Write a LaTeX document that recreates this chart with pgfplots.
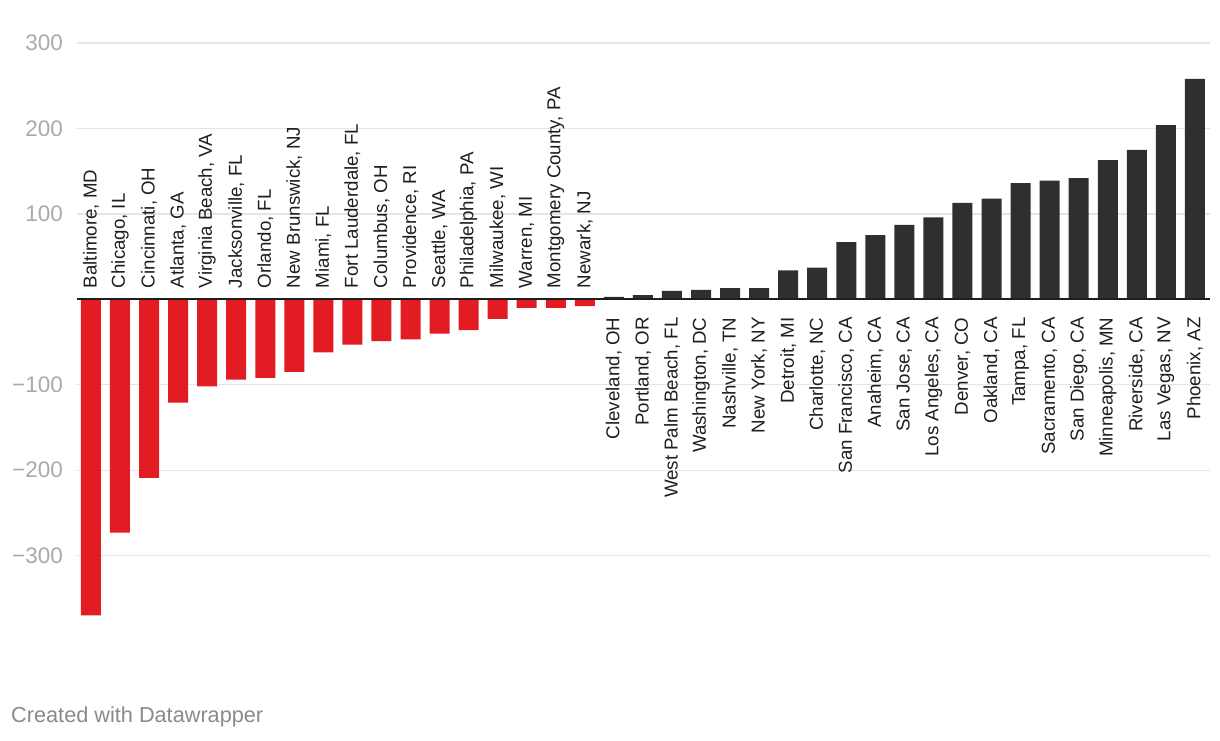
\documentclass[border=0pt]{standalone}
\usepackage{fontspec}
\setmainfont{Liberation Sans}
\usepackage{pgfplots}
\pgfplotsset{compat=1.18}
\definecolor{barred}{HTML}{E31B23}
\definecolor{bardark}{HTML}{2F2F2F}
\definecolor{gridc}{HTML}{E5E5E5}
\definecolor{tickc}{HTML}{AAAAAA}
\definecolor{footc}{HTML}{8A8A8A}
\definecolor{labc}{HTML}{1E1E1E}
\newcommand\labfont{\fontsize{18.7}{18.7}\selectfont}
\tikzset{neglab/.style={rotate=90, anchor=west, inner sep=0pt, font=\labfont, text=labc},
         poslab/.style={rotate=90, anchor=east, inner sep=0pt, font=\labfont, text=labc}}
\newcommand\nl[2]{\node[neglab] at (axis cs:#1,13) {#2};}
\newcommand\pl[2]{\node[poslab] at (axis cs:#1,-21) {#2};}
\begin{document}
\begin{tikzpicture}
\useasboundingbox (0,0) rectangle (1220pt,-740pt);
\begin{axis}[
  at={(77pt,-43pt)}, anchor=north west,
  scale only axis, width=1133pt, height=581pt,
  xmin=-0.48, xmax=38.52, ymin=-380, ymax=300,
  axis line style={draw=none},
  xtick=\empty,
  ytick={-300,-200,-100,0,100,200,300},
  yticklabels={−300,−200,−100,,100,200,300},
  ymajorgrids, major grid style={gridc, line width=1.3pt},
  major tick length=0pt,
  yticklabel style={font=\fontsize{22.5}{22.5}\selectfont, text=tickc, anchor=east, inner sep=0pt, xshift=-14pt},
  clip=false,
]
\addplot[ybar, bar shift=0pt, bar width=20pt, fill=barred, draw=none] coordinates {
(0,-370) (1,-273) (2,-209) (3,-121) (4,-102) (5,-94) (6,-92) (7,-85) (8,-62)
(9,-53) (10,-49) (11,-47) (12,-40) (13,-36) (14,-23) (15,-10) (16,-10) (17,-8)};
\addplot[ybar, bar shift=0pt, bar width=20pt, fill=bardark, draw=none] coordinates {
(18,3) (19,5) (20,10) (21,11) (22,13) (23,13) (24,34) (25,37) (26,67) (27,75)
(28,87) (29,96) (30,113) (31,118) (32,136) (33,139) (34,142) (35,163) (36,175)
(37,204) (38,258)};
\draw[line width=2pt, color=labc] (axis cs:-0.48,0) -- (axis cs:38.52,0);
\nl{0}{Baltimore, MD}
\nl{1}{Chicago, IL}
\nl{2}{Cincinnati, OH}
\nl{3}{Atlanta, GA}
\nl{4}{Virginia Beach, VA}
\nl{5}{Jacksonville, FL}
\nl{6}{Orlando, FL}
\nl{7}{New Brunswick, NJ}
\nl{8}{Miami, FL}
\nl{9}{Fort Lauderdale, FL}
\nl{10}{Columbus, OH}
\nl{11}{Providence, RI}
\nl{12}{Seattle, WA}
\nl{13}{Philadelphia, PA}
\nl{14}{Milwaukee, WI}
\nl{15}{Warren, MI}
\nl{16}{Montgomery County, PA}
\nl{17}{Newark, NJ}
\pl{18}{Cleveland, OH}
\pl{19}{Portland, OR}
\pl{20}{West Palm Beach, FL}
\pl{21}{Washington, DC}
\pl{22}{Nashville, TN}
\pl{23}{New York, NY}
\pl{24}{Detroit, MI}
\pl{25}{Charlotte, NC}
\pl{26}{San Francisco, CA}
\pl{27}{Anaheim, CA}
\pl{28}{San Jose, CA}
\pl{29}{Los Angeles, CA}
\pl{30}{Denver, CO}
\pl{31}{Oakland, CA}
\pl{32}{Tampa, FL}
\pl{33}{Sacramento, CA}
\pl{34}{San Diego, CA}
\pl{35}{Minneapolis, MN}
\pl{36}{Riverside, CA}
\pl{37}{Las Vegas, NV}
\pl{38}{Phoenix, AZ}
\end{axis}
\node[anchor=west, inner sep=0pt, font=\fontsize{21.7}{21.7}\selectfont, text=footc] at (11pt,-717pt) {Created with Datawrapper};
\end{tikzpicture}
\end{document}
